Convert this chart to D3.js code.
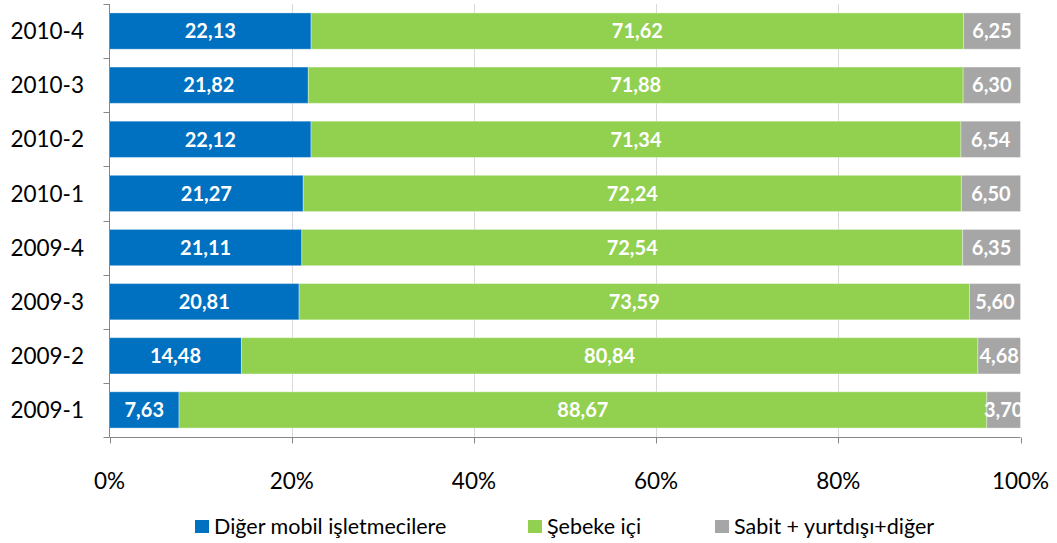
<!DOCTYPE html>
<html>
<head>
<meta charset="utf-8">
<script src="https://cdn.jsdelivr.net/npm/d3@7"></script>
<style>
  body { margin: 0; background: #fff; }
  svg { display: block; }
  text { font-family: Lato, "Open Sans", "Liberation Sans", sans-serif; }
</style>
</head>
<body>
<svg id="chart" width="1057" height="543"></svg>
<script>
// Quarters, top to bottom
const categories = ["2010-4", "2010-3", "2010-2", "2010-1", "2009-4", "2009-3", "2009-2", "2009-1"];
// Share of outgoing traffic (%)
const digerMobil = [22.13, 21.82, 22.12, 21.27, 21.11, 20.81, 14.48, 7.63];
const sebekeIci  = [71.62, 71.88, 71.34, 72.24, 72.54, 73.59, 80.84, 88.67];
const sabitDiger = [6.25, 6.30, 6.54, 6.50, 6.35, 5.60, 4.68, 3.70];
const seriesNames = ["Diğer mobil işletmecilere", "Şebeke içi", "Sabit + yurtdışı+diğer"];
const xTicks = [0, 20, 40, 60, 80, 100];

const colors = ["#0070C0", "#92D050", "#A6A6A6"];
const seriesValues = [digerMobil, sebekeIci, sabitDiger];

const rows = categories.map((c, i) => {
  const r = { cat: c };
  seriesNames.forEach((s, k) => { r[s] = seriesValues[k][i]; });
  return r;
});

const svg = d3.select("#chart");
const x = d3.scaleLinear().domain([0, 100]).range([109.5, 1020.5]);
const y = d3.scaleBand().domain(categories).range([4, 437]).paddingInner(0.33).paddingOuter(0.165);

// vertical gridlines
svg.append("g").selectAll("line").data(xTicks.slice(1)).join("line")
  .attr("x1", d => Math.round(x(d)) + 0.5).attr("x2", d => Math.round(x(d)) + 0.5)
  .attr("y1", 4).attr("y2", 437)
  .attr("stroke", "#D9D9D9").attr("stroke-width", 1);

const stack = d3.stack().keys(seriesNames)(rows);

const layers = svg.append("g").selectAll("g").data(stack).join("g")
  .attr("fill", (d, i) => colors[i]);

layers.selectAll("rect").data(d => d).join("rect")
  .attr("x", d => x(d[0]))
  .attr("y", d => y(d.data.cat))
  .attr("width", d => x(d[1]) - x(d[0]))
  .attr("height", y.bandwidth())
  .attr("stroke", "rgba(255,255,255,0.35)")
  .attr("stroke-width", 1);

// value labels
const fmt = v => v.toFixed(2).replace(".", ",");
layers.selectAll("text").data(d => d.map(p => ({ p, key: d.key }))).join("text")
  .attr("x", d => (x(d.p[0]) + x(d.p[1])) / 2)
  .attr("y", d => y(d.p.data.cat) + y.bandwidth() / 2)
  .attr("dy", "0.36em")
  .attr("text-anchor", "middle")
  .attr("fill", "#fff")
  .attr("font-size", 20)
  .attr("font-weight", "bold")
  .text(d => fmt(d.p.data[d.key]));

// clip labels that overflow the plot on the right
svg.append("rect").attr("x", 1021).attr("y", 0).attr("width", 40).attr("height", 440).attr("fill", "#fff");

// y axis
const yAxis = svg.append("g").attr("transform", "translate(109.5,0)");
yAxis.append("line").attr("y1", 4).attr("y2", 437).attr("stroke", "#868686");
const yTickPos = d3.range(categories.length + 1).map(i => 4 + i * (433 / categories.length));
yAxis.selectAll("line.t").data(yTickPos).join("line").attr("class", "t")
  .attr("x1", -6).attr("x2", 0).attr("y1", d => Math.round(d) + 0.5).attr("y2", d => Math.round(d) + 0.5)
  .attr("stroke", "#868686");
svg.append("g").selectAll("text").data(categories).join("text")
  .attr("x", 84).attr("y", d => y(d) + y.bandwidth() / 2)
  .attr("dy", "0.36em").attr("text-anchor", "end")
  .attr("font-size", 22.5).attr("fill", "#000")
  .text(d => d);

// x axis
const xAxis = svg.append("g").attr("transform", "translate(0,437.5)");
xAxis.append("line").attr("x1", 109.5).attr("x2", 1020.5).attr("stroke", "#868686");
xAxis.selectAll("line.t").data(xTicks).join("line").attr("class", "t")
  .attr("x1", d => Math.round(x(d)) + 0.5).attr("x2", d => Math.round(x(d)) + 0.5)
  .attr("y1", 0).attr("y2", 6).attr("stroke", "#868686");
xAxis.selectAll("text").data(xTicks).join("text")
  .attr("x", d => x(d)).attr("y", 43).attr("dy", "0.36em")
  .attr("text-anchor", "middle").attr("font-size", 22.5).attr("fill", "#000")
  .text(d => d + "%");

// legend
const legendX = [195, 528, 715];
const legend = svg.append("g").selectAll("g").data(seriesNames).join("g")
  .attr("transform", (d, i) => `translate(${legendX[i]},526.5)`);
legend.append("rect").attr("x", 0).attr("y", -6.5).attr("width", 14).attr("height", 13)
  .attr("fill", (d, i) => colors[i]);
legend.append("text").attr("x", 19).attr("y", 0).attr("dy", "0.36em")
  .attr("font-size", 21.5).attr("fill", "#000").text(d => d);
</script>
</body>
</html>
